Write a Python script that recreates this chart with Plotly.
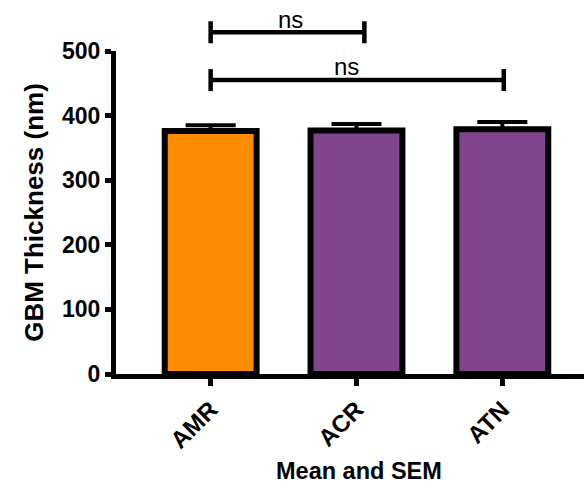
import plotly.graph_objects as go

# Group means and SEM for GBM thickness (nm)
groups = ["AMR", "ACR", "ATN"]
mean_thickness = [376, 377, 379]
sem_thickness = [9, 10, 11]
y_tick_values = [0, 100, 200, 300, 400, 500]

# Pairwise comparisons: (first group, second group, result)
comparisons = [
    ("AMR", "ACR", "ns"),
    ("AMR", "ATN", "ns"),
]

ORANGE = "#FF8C00"
PURPLE = "#80458D"
FONT = "Liberation Sans"
Y_MAX = 500

bar_colors = [ORANGE, PURPLE, PURPLE]

fig = go.Figure()
fig.add_trace(
    go.Bar(
        x=groups,
        y=mean_thickness,
        width=0.63,
        marker=dict(color=bar_colors, line=dict(color="black", width=6)),
        error_y=dict(
            type="data",
            array=sem_thickness,
            arrayminus=[0] * len(sem_thickness),
            symmetric=False,
            color="black",
            thickness=4,
            width=25,
        ),
        showlegend=False,
    )
)

# Significance brackets (heights in axis units, drawn in paper coordinates)
bracket_levels = [529, 455]      # axis units of each bracket line
bracket_x_end = [1.054, 2.01]    # right end of each bracket on the category axis
label_x = [0.55, 0.93]
label_level = [549, 476]
cap = 17

shapes = []
annotations = []
for i, (g1, g2, result) in enumerate(comparisons):
    x0 = groups.index(g1)
    x1 = bracket_x_end[i]
    yl = bracket_levels[i] / Y_MAX
    yc = cap / Y_MAX
    line = dict(color="black", width=4.5)
    shapes.append(dict(type="line", xref="x", yref="paper", x0=x0, x1=x1, y0=yl, y1=yl, line=line))
    shapes.append(dict(type="line", xref="x", yref="paper", x0=x0, x1=x0, y0=yl - yc, y1=yl + yc, line=line))
    shapes.append(dict(type="line", xref="x", yref="paper", x0=x1, x1=x1, y0=yl - yc, y1=yl + yc, line=line))
    annotations.append(
        dict(
            x=label_x[i], y=label_level[i] / Y_MAX, xref="x", yref="paper",
            text=result, showarrow=False, xanchor="center", yanchor="middle",
            font=dict(family=FONT, size=24, color="black"),
        )
    )

annotations.append(
    dict(
        x=0.52, y=-0.30, xref="paper", yref="paper",
        text="Mean and SEM", showarrow=False, xanchor="center", yanchor="middle",
        font=dict(family=FONT, size=23.5, color="black", weight="bold"),
    )
)

fig.update_layout(
    width=585,
    height=487,
    autosize=False,
    margin=dict(l=116, r=1, t=51, b=113),
    plot_bgcolor="white",
    paper_bgcolor="white",
    shapes=shapes,
    annotations=annotations,
    xaxis=dict(
        range=[-0.649, 2.56],
        showline=True, linewidth=5, linecolor="black",
        ticks="outside", ticklen=7, tickwidth=5, tickcolor="black",
        tickangle=-45,
        tickfont=dict(family=FONT, size=24, color="black", weight="bold"),
        showgrid=False, zeroline=False,
    ),
    yaxis=dict(
        range=[0, Y_MAX],
        tickvals=y_tick_values,
        showline=True, linewidth=5, linecolor="black",
        ticks="outside", ticklen=6, tickwidth=5, tickcolor="black",
        tickfont=dict(family=FONT, size=23, color="black", weight="bold"),
        title=dict(
            text="GBM Thickness (nm)",
            font=dict(family=FONT, size=26, color="black", weight="bold"),
            standoff=12,
        ),
        showgrid=False, zeroline=False,
    ),
)

fig.write_html("out.html")
